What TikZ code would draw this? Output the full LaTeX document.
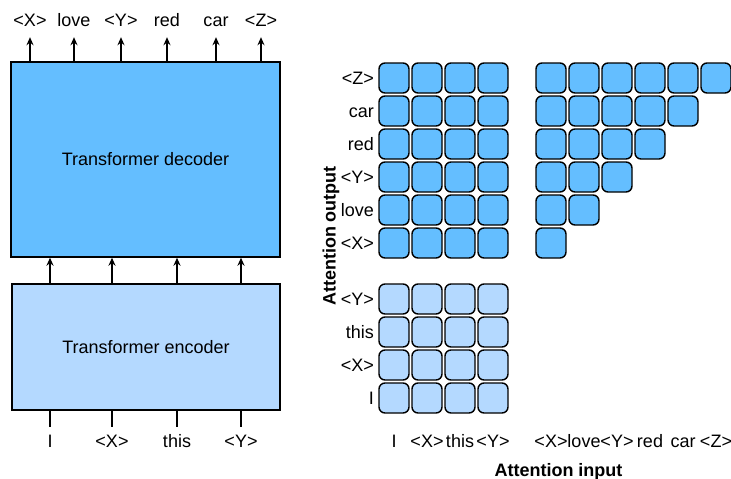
\documentclass[tikz,border=0pt]{standalone}
\usepackage{fontspec}
\setmainfont{Liberation Sans}
\usetikzlibrary{arrows.meta, positioning}
\definecolor{deccol}{RGB}{100,190,255}
\definecolor{enccol}{RGB}{180,217,255}

\tikzset{
  blockbox/.style={draw, line width=1.4pt, inner sep=0pt, font=\fontsize{18}{21}\selectfont},
  cellA/.style={draw, line width=1.4pt, rounded corners=6pt, fill=deccol, minimum size=30pt, inner sep=0pt},
  cellB/.style={cellA, fill=enccol},
  tok/.style={inner sep=0pt, text height=13pt, text depth=0pt, font=\fontsize{18}{21}\selectfont},
  arr/.style={line width=1.4pt, -{Stealth[length=8pt, width=7pt]}},
}

\begin{document}
\begin{tikzpicture}[x=1pt, y=-1pt]
\useasboundingbox (0,0) rectangle (731,479);

% left: encoder-decoder
\node[blockbox, fill=deccol, minimum width=269pt, minimum height=195pt] (dec) at (145.5,159.5) {Transformer decoder};
\node[blockbox, fill=enccol, minimum width=268pt, minimum height=126pt] (enc) at (146,347) {Transformer encoder};

% outputs
\foreach \w/\x [count=\i] in {<X>/30,love/74,<Y>/121,red/167,car/216,<Z>/261} {
  \node[tok, anchor=base, inner ysep=10pt] (out\i) at (\x,27) {\w};
  \draw[arr] (dec.north -| out\i) -- (out\i.south);
}

% inputs
\foreach \w/\x [count=\i] in {I/50,<X>/112,this/177,<Y>/241} {
  \node[tok, anchor=base, inner ysep=7pt] (in\i) at (\x,447) {\w};
  \draw[line width=1.4pt] (in\i.north) -- (enc.south -| in\i);
  \draw[arr] (enc.north -| in\i) -- (dec.south -| in\i);
}

% right: attention patterns
\foreach \w [count=\r] in {<Z>,car,red,<Y>,love,<X>} {
  \node[tok, anchor=east] (dr\r) at (374,{45+33*\r}) {\w};
  \foreach \c in {1,...,4}
    \node[cellA] (d\r-\c) at ({361+33*\c},{45+33*\r}) {};
  \pgfmathtruncatemacro\ncols{7-\r}
  \foreach \c in {1,...,\ncols}
    \node[cellA] (m\r-\c) at ({518+33*\c},{45+33*\r}) {};
}
\foreach \w [count=\r] in {<Y>,this,<X>,I} {
  \node[tok, anchor=east] (er\r) at (374,{266+33*\r}) {\w};
  \foreach \c in {1,...,4}
    \node[cellB] (e\r-\c) at ({361+33*\c},{266+33*\r}) {};
}

% column labels
\foreach \w [count=\c] in {I,<X>,this,<Y>}
  \node[tok, anchor=base] (ec\c) at ({361+33*\c},447) {\w};
\foreach \w [count=\c] in {<X>,love,<Y>,red,car,<Z>}
  \node[tok, anchor=base] (dc\c) at ({518+33*\c},447) {\w};

\node[font=\fontsize{18}{21}\selectfont\bfseries, anchor=base] (ain) at (558.5,476) {Attention input};
\node[font=\fontsize{18}{21}\selectfont\bfseries, rotate=90] (aout) at (331,236) {Attention output};
\end{tikzpicture}
\end{document}
